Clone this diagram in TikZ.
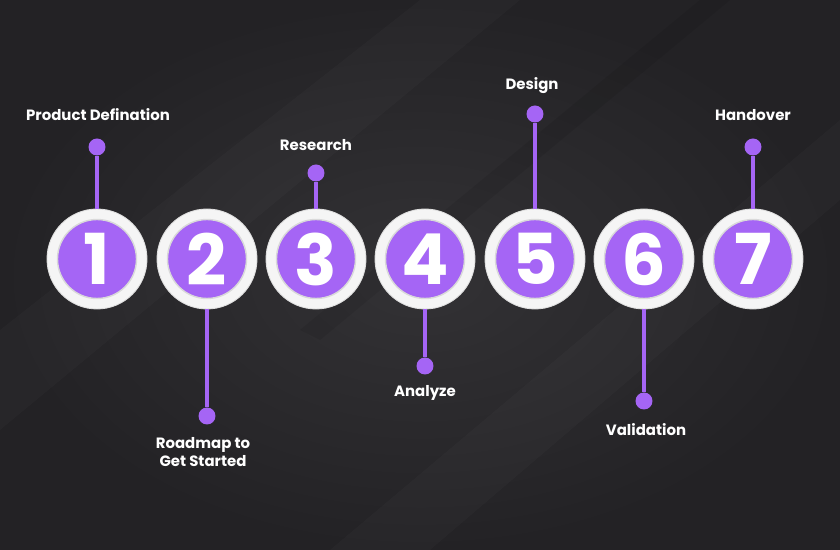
\documentclass[tikz,border=0pt]{standalone}
\usepackage{fontspec}
\setmainfont{Poppins}
\usepackage{tikz}
\usetikzlibrary{positioning, calc}

\definecolor{bgdark}{HTML}{232225}
\definecolor{bglight}{HTML}{333235}
\definecolor{stepviolet}{HTML}{A565F5}

\begin{document}
\begin{tikzpicture}[
    x=0.02cm, y=-0.02cm,
    ring/.style={
        circle, minimum size=2cm, inner sep=0pt, fill=white!96!black, draw=gray!25, line width=0.5pt
    },
    disc/.style={
        circle, minimum size=1.58cm, inner sep=0pt, fill=stepviolet, draw=gray!30, line width=0.8pt
    },
    num/.style={
        font=\fontsize{40}{40}\selectfont\bfseries, text=white, inner sep=0pt
    },
    pinhead/.style={
        circle, fill=stepviolet, minimum size=0.34cm, inner sep=0pt
    },
    pin/.style={draw=stepviolet, line width=2pt},
    lbl/.style={
        font=\fontsize{8.5}{10.5}\selectfont\bfseries, text=white, align=center, inner sep=0pt
    }
]

% BACKGROUND (840 x 550 px)
\useasboundingbox (0,0) rectangle (840,550);
\shade[inner color=bglight, outer color=bgdark] (0,0) rectangle (840,550);
\fill[white, opacity=0.02] (0,330) -- (420,0) -- (520,0) -- (0,430) -- cycle;
\fill[white, opacity=0.02] (330,550) -- (840,120) -- (840,200) -- (430,550) -- cycle;
\fill[black, opacity=0.08] (300,330) -- (700,0) -- (730,0) -- (320,340) -- cycle;

% STEP CIRCLES
\node[ring] (r1) at (97,259) {};
\node[ring] (r2) at (207,259) {};
\node[ring] (r3) at (316,259) {};
\node[ring] (r4) at (425,259) {};
\node[ring] (r5) at (535,259) {};
\node[ring] (r6) at (644,259) {};
\node[ring] (r7) at (753,259) {};

\node[disc] (c1) at (r1) {};
\node[disc] (c2) at (r2) {};
\node[disc] (c3) at (r3) {};
\node[disc] (c4) at (r4) {};
\node[disc] (c5) at (r5) {};
\node[disc] (c6) at (r6) {};
\node[disc] (c7) at (r7) {};

\node[num] (n1) at (c1) {1};
\node[num] (n2) at (c2) {2};
\node[num] (n3) at (c3) {3};
\node[num] (n4) at (c4) {4};
\node[num] (n5) at (c5) {5};
\node[num] (n6) at (c6) {6};
\node[num] (n7) at (c7) {7};

% PIN HEADS
\node[pinhead] (p1) at (97,147) {};
\node[pinhead] (p2) at (207,416) {};
\node[pinhead] (p3) at (316,173) {};
\node[pinhead] (p4) at (425,366) {};
\node[pinhead] (p5) at (535,114) {};
\node[pinhead] (p6) at (644,401) {};
\node[pinhead] (p7) at (753,147) {};

% PINS
\draw[pin] (p1) -- (r1.north);
\draw[pin] (p2) -- (r2.south);
\draw[pin] (p3) -- (r3.north);
\draw[pin] (p4) -- (r4.south);
\draw[pin] (p5) -- (r5.north);
\draw[pin] (p6) -- (r6.south);
\draw[pin] (p7) -- (r7.north);

% LABELS
\node[lbl] (l1) at (98,115) {Product Defination};
\node[lbl] (l2) at (203,452) {Roadmap to\\Get Started};
\node[lbl] (l3) at (316,145) {Research};
\node[lbl] (l4) at (425,393) {Analyze};
\node[lbl] (l5) at (532,86) {Design};
\node[lbl] (l6) at (646,430) {Validation};
\node[lbl] (l7) at (753,115) {Handover};

\end{tikzpicture}
\end{document}
